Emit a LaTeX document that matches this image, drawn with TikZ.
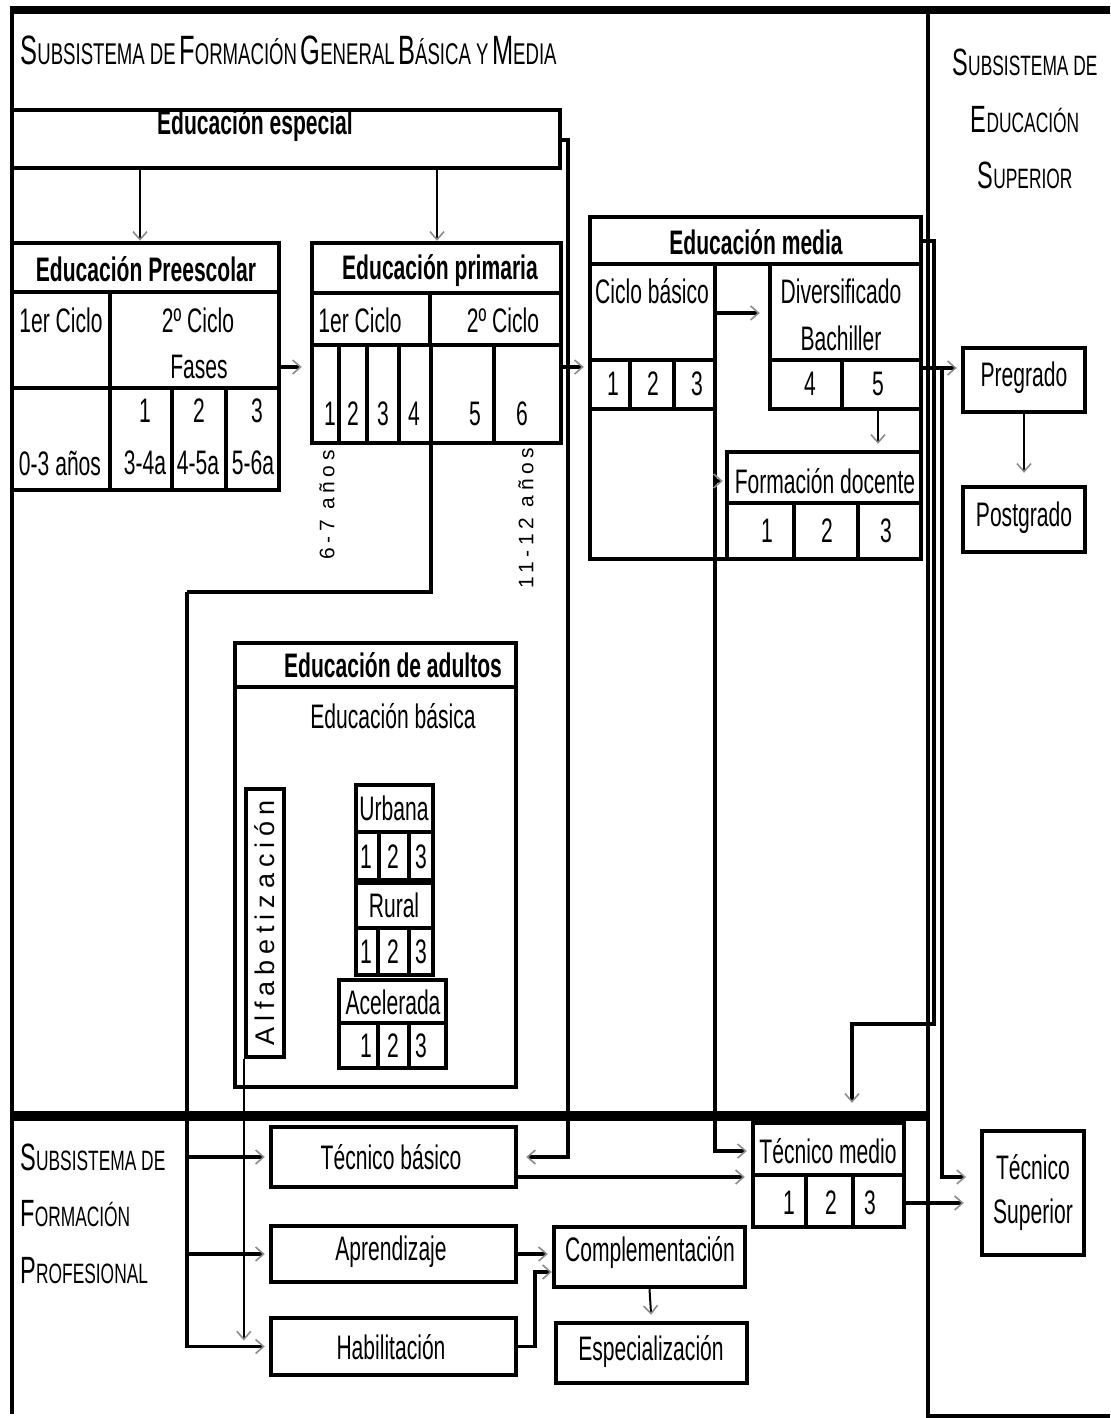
\documentclass[tikz,border=0pt]{standalone}
\usepackage{fontspec}
\setmainfont{Liberation Sans}[FakeStretch=0.62]
\newfontfamily\spacedfont{Liberation Sans}[LetterSpace=22]
\usetikzlibrary{arrows.meta,fit}
% versalitas hechas a mano
\newcommand{\vsc}[2]{{\fontsize{19}{22}\selectfont #1}{\fontsize{14}{17}\selectfont #2}}
\newcommand{\vscg}[2]{{\fontsize{20.5}{24}\selectfont #1}{\fontsize{15}{18}\selectfont #2}}
\newcommand{\cellbox}[5]{\node[box, fit={(#2,#3) (#4,#5)}] (#1) {};}
\tikzset{
  box/.style={draw, line width=2.2pt, inner sep=0pt},
  sep/.style={line width=2.1pt},
  lbl/.style={inner sep=0pt, font=\fontsize{17}{19}\selectfont},
  ttl/.style={inner sep=0pt, font=\fontsize{17}{19}\selectfont\bfseries},
  conn/.style={line width=1.6pt},
  arr/.style={conn, -{Straight Barb[length=4pt,width=7pt,line width=0.8pt,color=black!45]}},
  farr/.style={arr, line width=1pt},
}
\begin{document}
\begin{tikzpicture}[x=0.5pt,y=-0.5pt]
\useasboundingbox (0,0) rectangle (1110,1418);
% marco
\draw[line width=4pt] (10,10) -- (1110,10);
\draw[line width=2.2pt] (12,10) -- (12,1414);
\draw[line width=2.2pt] (928,10) -- (928,1416) -- (1110,1416);
\draw[line width=5pt] (12,1116) -- (928,1116);
% titulos de subsistemas
\node[anchor=west, inner sep=0pt] (t-gen) at (20,50) {\vscg{S}{UBSISTEMA DE}\ \vscg{F}{ORMACIÓN}\ \vscg{G}{ENERAL}\ \vscg{B}{ÁSICA Y}\ \vscg{M}{EDIA}};
\node[inner sep=0pt] (t-sup1) at (1025,62) {\vsc{S}{UBSISTEMA DE}};
\node[inner sep=0pt] (t-sup2) at (1025,120) {\vsc{E}{DUCACIÓN}};
\node[inner sep=0pt] (t-sup3) at (1025,175) {\vsc{S}{UPERIOR}};
\node[anchor=west, inner sep=0pt] (t-pro1) at (20,1157) {\vsc{S}{UBSISTEMA DE}};
\node[anchor=west, inner sep=0pt] (t-pro2) at (20,1214) {\vsc{F}{ORMACIÓN}};
\node[anchor=west, inner sep=0pt] (t-pro3) at (20,1271) {\vsc{P}{ROFESIONAL}};
% educacion especial
\cellbox{esp}{12}{110}{560}{168}
\node[ttl] (t-esp) at (255,126) {Educación especial};
% preescolar
\cellbox{pre}{12}{243}{279}{490}
\draw[sep] (12,292) -- (279,292) (12,388) -- (279,388);
\draw[sep] (110,292) -- (110,490) (172,388) -- (172,490) (226,388) -- (226,490);
\node[ttl] (t-pre) at (146,269) {Educación Preescolar};
\node[lbl] (t-pc1) at (61,320) {1er Ciclo};
\node[lbl] (t-pc2) at (198,320) {2º Ciclo};
\node[lbl] (t-pfa) at (199,367) {Fases};
\node[lbl] (t-p03) at (60,463) {0-3 años};
\node[lbl] (t-pf1) at (145,411) {1};
\node[lbl] (t-pa1) at (145,463) {3-4a};
\node[lbl] (t-pf2) at (199,411) {2};
\node[lbl] (t-pa2) at (198,463) {4-5a};
\node[lbl] (t-pf3) at (257,411) {3};
\node[lbl] (t-pa3) at (253,463) {5-6a};
% primaria
\cellbox{prim}{312}{243}{561}{443}
\draw[sep] (312,293) -- (561,293) (312,345) -- (561,345) (430,293) -- (430,345);
\foreach \x in {339,367,399,431,494} \draw[sep] (\x,345) -- (\x,443);
\node[ttl] (t-prim) at (440,271) {Educación primaria};
\node[lbl] (t-mc1) at (360,320) {1er Ciclo};
\node[lbl] (t-mc2) at (503,320) {2º Ciclo};
\foreach \n/\x in {1/330,2/353,3/383,4/414,5/475,6/522}
  \node[lbl] (t-m\n) at (\x,414) {\n};
\node[rotate=90, inner sep=0pt, font=\spacedfont\fontsize{10.5}{12}\selectfont] (t-a67) at (327,505) {6-7 años};
\node[rotate=90, inner sep=0pt, font=\spacedfont\fontsize{10.5}{12}\selectfont] (t-a1112) at (526,518) {11-12 años};
% media
\cellbox{med}{590}{217}{921}{559}
\draw[sep] (590,264) -- (921,264) (715,264) -- (715,559);
\draw[sep] (590,360) -- (715,360) (590,409) -- (715,409) (630,360) -- (630,409) (674,360) -- (674,409);
\node[ttl] (t-med) at (756,242) {Educación media};
\node[lbl] (t-cb) at (652,291) {Ciclo básico};
\foreach \n/\x in {1/613,2/653,3/697}
  \node[lbl] (t-cb\n) at (\x,384) {\n};
\cellbox{div}{770}{264}{921}{409}
\draw[sep] (770,360) -- (921,360) (842,360) -- (842,409);
\node[lbl] (t-div) at (841,291) {Diversificado};
\node[lbl] (t-bach) at (841,338) {Bachiller};
\node[lbl] (t-d4) at (810,384) {4};
\node[lbl] (t-d5) at (878,384) {5};
\cellbox{doc}{727}{452}{921}{559}
\draw[sep] (727,503) -- (921,503) (794,503) -- (794,559) (858,503) -- (858,559);
\node[lbl] (t-doc) at (825,481) {Formación docente};
\foreach \n/\x in {1/767,2/827,3/886}
  \node[lbl] (t-fd\n) at (\x,531) {\n};
% adultos
\cellbox{adu}{235}{643}{516}{1087}
\draw[sep] (235,687) -- (516,687);
\node[ttl] (t-adu) at (393,665) {Educación de adultos};
\node[lbl] (t-eb) at (393,716) {Educación básica};
\cellbox{alf}{246}{789}{284}{1057}
\node[rotate=90, inner sep=0pt, font=\spacedfont\fontsize{13.5}{15}\selectfont] (t-alf) at (265,923) {Alfabetización};
\cellbox{urb}{356}{785}{433}{880}
\draw[sep] (356,832) -- (433,832) (379,832) -- (379,880) (409,832) -- (409,880);
\cellbox{rur}{356}{880}{433}{975}
\draw[line width=3.5pt] (356,881) -- (433,881);
\draw[sep] (356,928) -- (433,928) (378,928) -- (378,975) (409,928) -- (409,975);
\cellbox{ace}{339}{980}{446}{1068}
\draw[sep] (339,1023) -- (446,1023) (378,1023) -- (378,1068) (409,1023) -- (409,1068);
\node[lbl] (t-urb) at (394,808) {Urbana};
\node[lbl] (t-rur) at (394,905) {Rural};
\node[lbl] (t-ace) at (393,1002) {Acelerada};
\foreach \n/\x in {1/366,2/393,3/421} {
  \node[lbl] (t-u\n) at (\x,857) {\n};
  \node[lbl] (t-r\n) at (\x,952) {\n};
  \node[lbl] (t-c\n) at (\x,1046) {\n};
}
% superior
\cellbox{preg}{963}{348}{1085}{412}
\node[lbl] (t-preg) at (1024,378) {Pregrado};
\cellbox{posg}{963}{487}{1085}{552}
\node[lbl] (t-posg) at (1024,518) {Postgrado};
% formacion profesional
\cellbox{tecb}{271}{1127}{516}{1187}
\node[lbl] (t-tecb) at (391,1157) {Técnico básico};
\cellbox{apr}{271}{1226}{516}{1282}
\node[lbl] (t-apr) at (391,1252) {Aprendizaje};
\cellbox{hab}{271}{1318}{516}{1375}
\node[lbl] (t-hab) at (391,1347) {Habilitación};
\cellbox{comp}{554}{1227}{745}{1287}
\node[lbl] (t-comp) at (650,1252) {Complementación};
\cellbox{espz}{556}{1323}{747}{1383}
\node[lbl] (t-espz) at (651,1351) {Especialización};
\cellbox{tecm}{753}{1123}{904}{1227}
\draw[sep] (753,1175) -- (904,1175) (806,1175) -- (806,1227) (853,1175) -- (853,1227);
\node[lbl] (t-tecm) at (828,1151) {Técnico medio};
\foreach \n/\x in {1/789,2/831,3/870}
  \node[lbl] (t-tm\n) at (\x,1203) {\n};
\cellbox{tsup}{982}{1131}{1084}{1255}
\node[lbl] (t-tsup1) at (1033,1167) {Técnico};
\node[lbl] (t-tsup2) at (1033,1215) {Superior};
% conectores
\coordinate (e1) at (140,168);
\coordinate (e2) at (437,168);
\draw[farr] (e1) -- (e1 |- pre.north);
\draw[farr] (e2) -- (e2 |- prim.north);
\coordinate (s1) at (568,140);
\draw[arr, shorten >=4pt] (esp.east |- s1) -- (s1) |- (tecb.east |- t-tecb);
\draw[arr, shorten >=4pt] (pre.east |- t-pfa) -- (prim.west |- t-pfa);
\draw[arr, shorten >=2pt] (prim.east |- t-pfa) -- (med.west |- t-pfa);
\coordinate (b1) at (431,592);
\coordinate (b2) at (187,592);
\draw[conn] (prim.south -| b1) -- (b1) -- (b2);
\draw[arr, shorten >=2pt] (b2) |- (hab.west);
\draw[arr, shorten >=2pt] (b2 |- tecb.west) -- (tecb.west);
\draw[arr, shorten >=2pt] (b2 |- apr.west) -- (apr.west);
\draw[farr, shorten >=3pt] (alf.south west) -- (alf.south west |- hab.west);
\coordinate (m1) at (715,559);
\coordinate (m2) at (715,313);
\draw[arr, shorten >=2pt] (m1) |- (tecm.west |- t-tecm);
\draw[arr, shorten >=4pt] (m2) -- (m2 -| div.west);
\draw[arr, shorten >=1pt] (m1 |- t-doc) -- (doc.west |- t-doc);
\draw[farr, shorten >=3pt] (t-d5 |- div.south) -- (t-d5 |- doc.north);
\coordinate (r1) at (934,241);
\coordinate (r2) at (852,1024);
\draw[arr, shorten >=9pt] (med.east |- r1) -- (r1) |- (r2) -- (r2 |- tecm.north);
\coordinate (d1) at (942,368);
\coordinate (d2) at (982,1177);
\draw[arr, shorten >=2pt] (div.east |- d1) -- (d1 -| preg.west);
\draw[arr, shorten >=8pt] (d1) |- (d2);
\draw[arr, shorten >=8pt] (tecm.east |- t-tm3) -- (tsup.west |- t-tm3);
\coordinate (c1) at (516,1177);
\draw[arr, shorten >=3pt] (c1) -- (c1 -| tecm.west);
\draw[farr, shorten >=6pt] (preg.south) -- (posg.north);
\draw[arr, shorten >=2pt] (apr.east) -- (apr.east -| comp.west);
\coordinate (h1) at (535,1272);
\draw[arr] (hab.east) -| (h1) -- (h1 -| comp.west);
\draw[farr, shorten >=3pt] (comp.south) -- (espz.north);
\end{tikzpicture}
\end{document}
